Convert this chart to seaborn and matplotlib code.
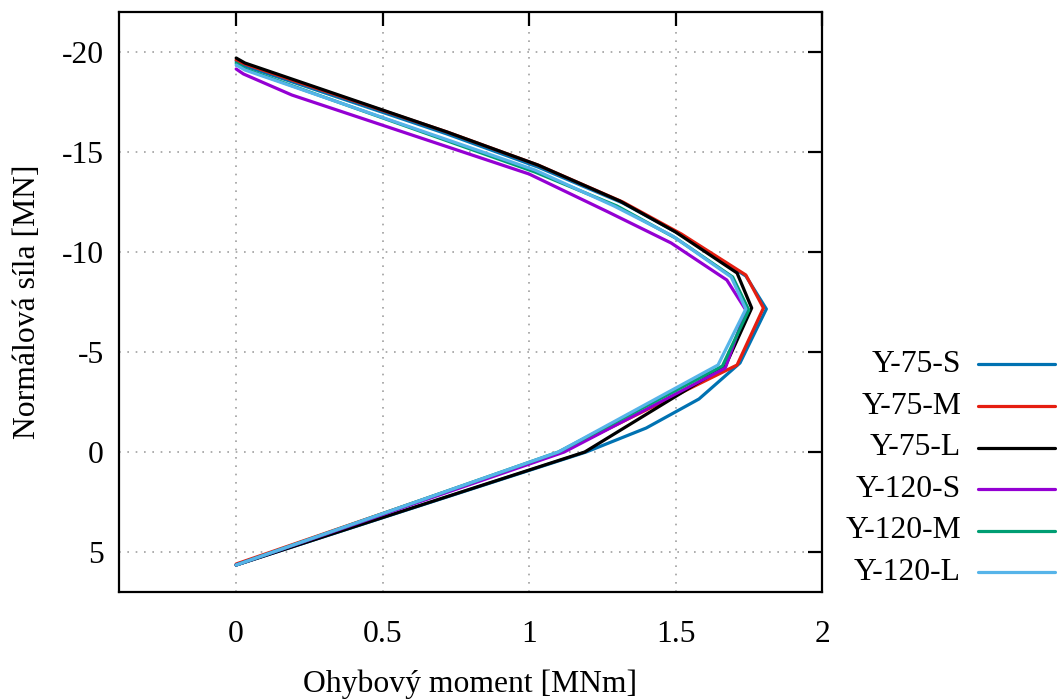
import matplotlib
matplotlib.use("Agg")
import matplotlib.pyplot as plt
from matplotlib.lines import Line2D
import seaborn as sns
import pandas as pd

# ---- data (bending moment [MNm], normal force [MN]) ----
labels = ["Y-75-S", "Y-75-M", "Y-75-L", "Y-120-S", "Y-120-M", "Y-120-L"]
colors = ["#0072b2", "#e51e10", "#000000", "#9400d3", "#009e73", "#56b4e9"]

m_75S = [0.0, 0.03, 0.72, 1.03, 1.32, 1.52, 1.74, 1.81, 1.72, 1.58, 1.40, 1.195, 0.0]
n_75S = [-19.55, -19.3, -15.9, -14.25, -12.45, -10.85, -8.8, -7.15, -4.45, -2.65, -1.2, 0.0, 5.65]

m_75M = [0.0, 0.03, 0.22, 0.72, 1.03, 1.32, 1.52, 1.74, 1.80, 1.71, 1.11, 0.0]
n_75M = [-19.6, -19.4, -18.45, -16.0, -14.35, -12.5, -10.9, -8.85, -7.2, -4.35, 0.0, 5.6]

m_75L = [0.0, 0.03, 0.22, 0.72, 1.03, 1.31, 1.50, 1.71, 1.76, 1.67, 1.19, 0.0]
n_75L = [-19.7, -19.45, -18.5, -16.0, -14.35, -12.55, -11.0, -8.95, -7.2, -4.3, 0.0, 5.65]

m_120S = [0.0, 0.025, 0.19, 1.0, 1.27, 1.485, 1.675, 1.74, 1.67, 1.12, 0.0]
n_120S = [-19.15, -18.9, -17.85, -13.9, -12.0, -10.45, -8.6, -7.1, -4.2, 0.0, 5.65]

m_120M = [0.0, 0.03, 1.02, 1.30, 1.50, 1.695, 1.75, 1.66, 1.10, 0.0]
n_120M = [-19.45, -19.15, -14.0, -12.3, -10.7, -8.75, -7.1, -4.3, 0.0, 5.65]

m_120L = [0.0, 0.03, 1.02, 1.29, 1.49, 1.69, 1.74, 1.645, 1.10, 0.0]
n_120L = [-19.35, -19.1, -14.1, -12.3, -10.8, -8.75, -7.15, -4.35, 0.0, 5.65]

series_m = [m_75S, m_75M, m_75L, m_120S, m_120M, m_120L]
series_n = [n_75S, n_75M, n_75L, n_120S, n_120M, n_120L]

x_ticks = [0, 0.5, 1, 1.5, 2]
y_ticks = [-20, -15, -10, -5, 0, 5]

FS = 22.8

sns.set_theme(style="white")
plt.rcParams["font.family"] = ["Liberation Serif", "DejaVu Serif"]
plt.rcParams["font.size"] = FS
plt.rcParams["text.color"] = "black"
plt.rcParams["axes.labelcolor"] = "black"

fig = plt.figure(figsize=(10.57, 6.99), dpi=100)
ax = fig.add_axes([119 / 1057, 1 - 592 / 699, (822 - 119) / 1057, (592 - 12) / 699])

for lab, col, m, n in zip(labels, colors, series_m, series_n):
    df = pd.DataFrame({"M": m, "N": n})
    sns.lineplot(data=df, x="M", y="N", sort=False, estimator=None, color=col,
                 linewidth=2.3, ax=ax, legend=False)

ax.set_xlim(-0.4, 2)
ax.set_ylim(7, -22)
ax.set_xticks(x_ticks)
ax.set_xticklabels([f"{v:g}" for v in x_ticks])
ax.set_yticks(y_ticks)
ax.set_yticklabels([f"{v:g}" for v in y_ticks])
ax.grid(True, color="#a0a0a0", linestyle=(0, (1, 4)), linewidth=1.2)
ax.set_axisbelow(True)
for s in ax.spines.values():
    s.set_linewidth(1.6)
    s.set_color("black")
ax.tick_params(direction="in", length=10, width=1.6, top=True, right=True,
               labelsize=FS, colors="black", labelcolor="black")
ax.tick_params(axis="x", pad=20)
ax.tick_params(axis="y", pad=11)
ax.set_xlabel("Ohybový moment [MNm]", fontsize=FS, labelpad=15, color="black")
ax.set_ylabel("Normálová síla [MN]", fontsize=FS, labelpad=14, color="black")

# legend (outside right, right-aligned labels, line samples to the right)
ys = [364.3, 406, 447.7, 489.3, 531, 572.3]
for lab, col, yp in zip(labels, colors, ys):
    yf = 1 - yp / 699
    fig.text(961 / 1057, yf, lab, ha="right", va="center", fontsize=FS, color="black")
    fig.add_artist(Line2D([978 / 1057, 1055 / 1057], [yf, yf], transform=fig.transFigure,
                          color=col, linewidth=2.3))

fig.savefig("out.png", dpi=100)
